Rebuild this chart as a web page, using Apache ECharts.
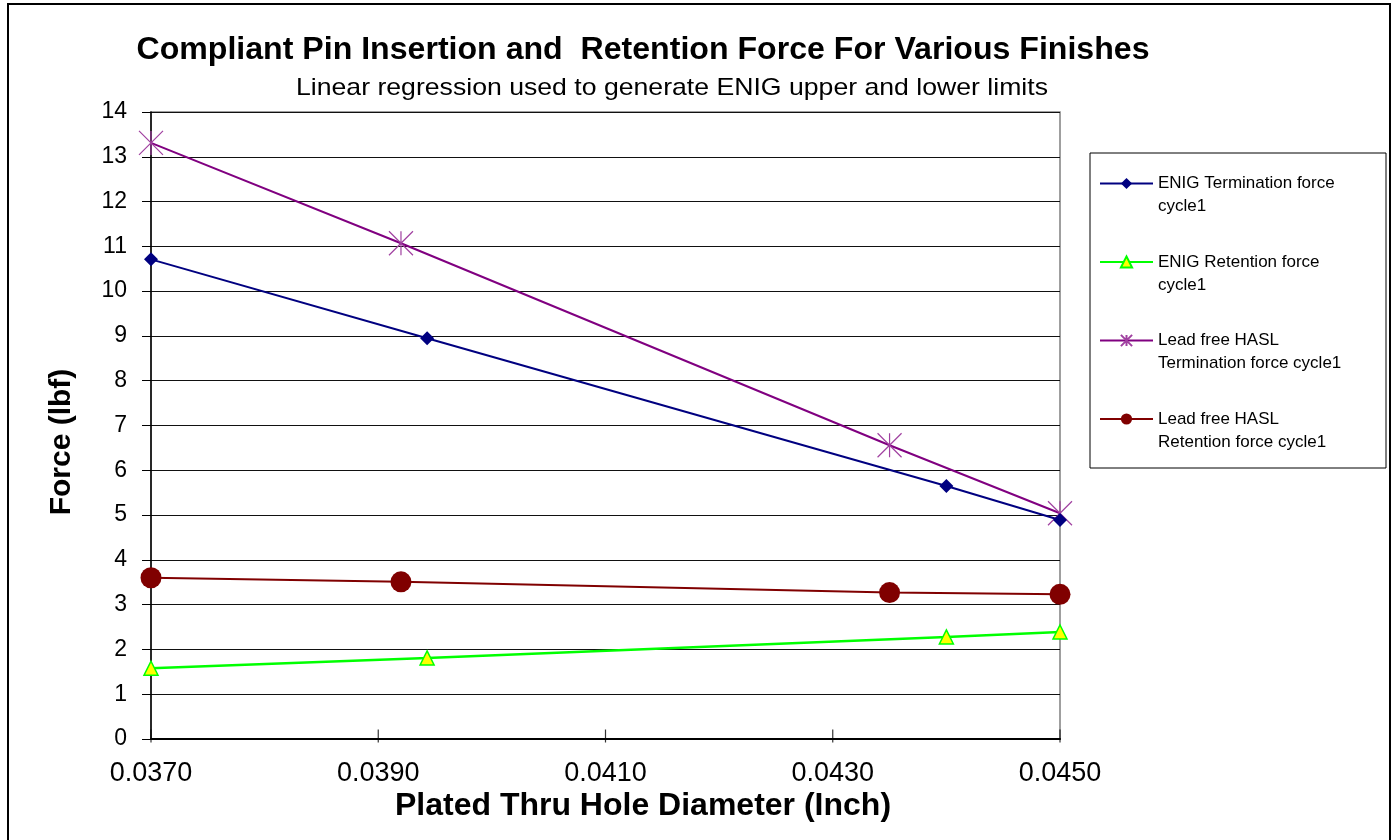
<!DOCTYPE html>
<html><head><meta charset="utf-8">
<script src="https://cdn.jsdelivr.net/npm/echarts@6/dist/echarts.min.js"></script>
<style>html,body{margin:0;padding:0;background:#fff}#c{width:1397px;height:840px}</style>
</head><body><div id="c"></div>
<script>
const titleText = 'Compliant Pin Insertion and  Retention Force For Various Finishes';
const subtitleText = 'Linear regression used to generate ENIG upper and lower limits';
const xAxisName = 'Plated Thru Hole Diameter (Inch)';
const yAxisName = 'Force (lbf)';
const seriesNames = [
  'ENIG Termination force\ncycle1',
  'ENIG Retention force\ncycle1',
  'Lead free HASL\nTermination force cycle1',
  'Lead free HASL\nRetention force cycle1'
];
const enigTermX = [0.0370, 0.03943, 0.0440, 0.0450];
const enigTermY = [10.71, 8.95, 5.65, 4.89];
const enigRetX = [0.0370, 0.03943, 0.0440, 0.0450];
const enigRetY = [1.58, 1.81, 2.28, 2.39];
const haslTermX = [0.0370, 0.0392, 0.0435, 0.0450];
const haslTermY = [13.31, 11.07, 6.56, 5.04];
const haslRetX = [0.0370, 0.0392, 0.0435, 0.0450];
const haslRetY = [3.60, 3.51, 3.27, 3.23];
const xTickValues = [0.037, 0.039, 0.041, 0.043, 0.045];
const yMin = 0, yMax = 14, yStep = 1;

const zip = (xs, ys) => xs.map((x, i) => [x, ys[i]]);
const FONT = '"Liberation Sans", Arial, sans-serif';
const starPath = 'path://M0,0L20,20M20,0L0,20M10,0L10,20';

const measureCtx = document.createElement('canvas').getContext('2d');
function fitScale(text, font, target) {
  measureCtx.font = font;
  return target / measureCtx.measureText(text).width;
}
const titleScale = fitScale(titleText, 'bold 31px ' + FONT, 1013);
const subScale = fitScale(subtitleText, '24px ' + FONT, 752);

const chart = echarts.init(document.getElementById('c'));
chart.setOption({
  animation: false,
  backgroundColor: '#fff',
  textStyle: { fontFamily: FONT },
  grid: { left: 151, right: 337, top: 112, bottom: 101, show: true, borderColor: '#808080', borderWidth: 1.5 },
  xAxis: {
    type: 'value', min: 0.037, max: 0.045, interval: 0.001,
    axisLine: { show: true, lineStyle: { color: '#000', width: 2 } },
    axisTick: { show: false },
    splitLine: { show: false },
    axisLabel: {
      fontFamily: FONT, fontSize: 27, color: '#000', margin: 21,
      formatter: v => xTickValues.some(t => Math.abs(t - v) < 1e-7) ? v.toFixed(4) : ''
    }
  },
  yAxis: {
    type: 'value', min: yMin, max: yMax, interval: yStep,
    axisLine: { show: true, lineStyle: { color: '#000', width: 1.5 } },
    axisTick: { show: true, length: 9, lineStyle: { color: '#000', width: 1 } },
    splitLine: { show: true, lineStyle: { color: '#111', width: 1.2 } },
    axisLabel: { fontFamily: FONT, fontSize: 23, color: '#000', margin: 24 }
  },
  legend: {
    orient: 'vertical', left: 1099, top: 149, padding: 0,
    itemWidth: 53, itemHeight: 14, itemGap: 9.5,
    textStyle: { fontFamily: FONT, fontSize: 17, color: '#000', lineHeight: 23 },
    formatter: name => '\n' + name,
    data: seriesNames
  },
  series: [
    {
      name: seriesNames[0], type: 'line', data: zip(enigTermX, enigTermY),
      symbol: 'diamond', symbolSize: 14,
      lineStyle: { color: '#000080', width: 2 },
      itemStyle: { color: '#000080' }, z: 4
    },
    {
      name: seriesNames[1], type: 'line', data: zip(enigRetX, enigRetY),
      symbol: 'triangle', symbolSize: 14,
      lineStyle: { color: '#00FF00', width: 2.5 },
      itemStyle: { color: '#FFFF00', borderColor: '#00FF00', borderWidth: 1.5 }
    },
    {
      name: seriesNames[2], type: 'line', data: zip(haslTermX, haslTermY),
      symbol: starPath, symbolSize: 24,
      lineStyle: { color: '#800080', width: 2 },
      itemStyle: { color: 'rgba(0,0,0,0)', borderColor: '#A040A0', borderWidth: 1.2 }, z: 3
    },
    {
      name: seriesNames[3], type: 'line', data: zip(haslRetX, haslRetY),
      symbol: 'circle', symbolSize: 21,
      lineStyle: { color: '#800000', width: 2 },
      itemStyle: { color: '#800000' }
    },
    {
      name: 'xticks', type: 'scatter', silent: true, legendHoverLink: false,
      data: xTickValues.map(v => [v, yMin]),
      symbol: 'rect', symbolSize: [1.2, 13], symbolOffset: [0, -3],
      itemStyle: { color: '#000' }, z: 1
    }
  ],
  graphic: [
    { type: 'rect', shape: { x: 8, y: 4, width: 1382, height: 850 }, style: { fill: 'none', stroke: '#000', lineWidth: 2 }, silent: true },
    { type: 'rect', shape: { x: 1090, y: 153, width: 296, height: 315 }, style: { fill: 'none', stroke: '#000', lineWidth: 1 }, silent: true },
    { type: 'text', x: 643, y: 50, scaleX: titleScale, style: { text: titleText, fontFamily: FONT, fontWeight: 'bold', fontSize: 31, fill: '#000', textAlign: 'center', textVerticalAlign: 'middle' } },
    { type: 'text', x: 672, y: 88, scaleX: subScale, style: { text: subtitleText, fontFamily: FONT, fontSize: 24, fill: '#000', textAlign: 'center', textVerticalAlign: 'middle' } },
    { type: 'text', x: 643, y: 806, style: { text: xAxisName, fontFamily: FONT, fontWeight: 'bold', fontSize: 32, fill: '#000', textAlign: 'center', textVerticalAlign: 'middle' } },
    { type: 'text', x: 62, y: 442, rotation: Math.PI / 2, style: { text: yAxisName, fontFamily: FONT, fontWeight: 'bold', fontSize: 30, fill: '#000', textAlign: 'center', textVerticalAlign: 'middle' } }
  ]
});
</script>
</body></html>
